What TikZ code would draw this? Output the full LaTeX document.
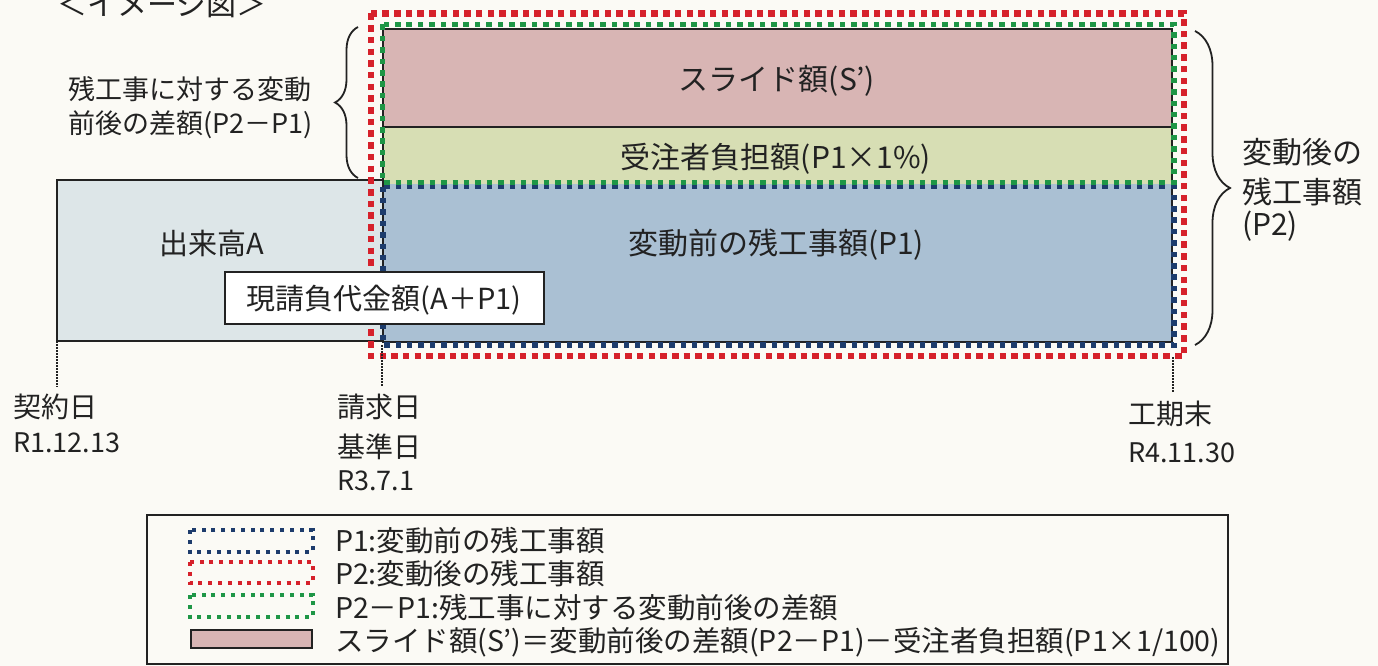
\documentclass[tikz,border=0pt]{standalone}
\usepackage{fontspec}
\setmainfont{Noto Sans CJK JP}
\usetikzlibrary{decorations.pathreplacing}
\definecolor{paper}{HTML}{FBFAF5}
\definecolor{ink}{HTML}{222222}
\definecolor{slidefill}{HTML}{D8B5B4}
\definecolor{burdenfill}{HTML}{D7DEB4}
\definecolor{remfill}{HTML}{AAC0D3}
\definecolor{donefill}{HTML}{DDE6E8}
\definecolor{dotred}{HTML}{D6212B}
\definecolor{dotgreen}{HTML}{1E9646}
\definecolor{dotblue}{HTML}{1D3C6C}
\newcommand{\myfs}[1]{\fontsize{#1}{#1}\selectfont}
\begin{document}
\begin{tikzpicture}[x=1pt,y=-1pt,
  lab/.style={inner sep=0pt, outer sep=0pt, text=ink},
  reddots/.style={draw=dotred, line width=6.5pt, dash pattern=on 6.5pt off 5.2pt},
  greendots/.style={draw=dotgreen, line width=5.5pt, dash pattern=on 5.5pt off 5.9pt},
  bluedots/.style={draw=dotblue, line width=5.5pt, dash pattern=on 5.5pt off 5.9pt},
  smallred/.style={draw=dotred, line width=4pt, dash pattern=on 4pt off 5.8pt},
  smallgreen/.style={draw=dotgreen, line width=4pt, dash pattern=on 4pt off 5.8pt},
  smallblue/.style={draw=dotblue, line width=4pt, dash pattern=on 4pt off 5.8pt},
  guide/.style={draw=ink, line width=1.2pt, dash pattern=on 1.5pt off 1.5pt},
  bracestyle/.style={draw=ink, line width=1.8pt, decorate, decoration={brace, amplitude=#1, aspect=0.5}},
  thinedge/.style={draw=ink, line width=1.5pt},
]
\useasboundingbox (0,0) rectangle (1378,666);
\fill[paper] (0,0) rectangle (1378,666);

% title
\node[lab, font=\myfs{30}, anchor=base west] (title) at (57,16) {＜イメージ図＞};

% work already done
\filldraw[fill=donefill, draw=ink, line width=2pt] (57,180) rectangle (383,341);
\node[lab, font=\myfs{29}, anchor=base] (done) at (212,254) {出来高A};

% stacked bands
\fill[slidefill] (383,29) rectangle (1172,127);
\fill[burdenfill] (383,127) rectangle (1172,184);
\fill[remfill] (383,184) rectangle (1172,342);
\draw[thinedge] (383,29) rectangle (1172,342);
\draw[thinedge] (383,127) -- (1172,127);

\node[lab, font=\myfs{30}, anchor=base] (slide) at (777,91) {スライド額(S’)};
\node[lab, font=\myfs{30}, anchor=base] (burden) at (776,168) {受注者負担額(P1×1\%)};
\node[lab, font=\myfs{30}, anchor=base] (rem) at (776,254) {変動前の残工事額(P1)};

% dotted outlines
\draw[bluedots] (383,186.5) rectangle (1174,345);
\draw[greendots] (382.5,24.5) rectangle (1174,182.5);
\draw[reddots] (371,13.5) rectangle (1184,356);

% contract amount box
\node[lab, draw=ink, line width=2pt, fill=white, minimum width=319pt, minimum height=52pt, anchor=north west] (contract) at (225,272) {};
\node[lab, font=\myfs{29}, anchor=base] (contracttxt) at (384,309) {現請負代金額(A＋P1)};

% guide lines
\coordinate (g1a) at (57,341);  \coordinate (g1b) at (57,387);
\coordinate (g2a) at (382,345); \coordinate (g2b) at (382,387);
\coordinate (g3a) at (1173,357); \coordinate (g3b) at (1173,393);
\draw[guide] (g1a) -- (g1b);
\draw[guide] (g2a) -- (g2b);
\draw[guide] (g3a) -- (g3b);

% braces
\coordinate (lbB) at (358,178); \coordinate (lbT) at (358,27);
\draw[bracestyle=23pt] (lbB) -- (lbT);
\coordinate (rbT) at (1195,31); \coordinate (rbB) at (1195,345);
\draw[bracestyle=35pt] (rbT) -- (rbB);

\node[lab, font=\myfs{27}, anchor=base west] (diffA) at (68,100) {残工事に対する変動};
\node[lab, font=\myfs{27}, anchor=base west] (diffB) at (68,133) {前後の差額(P2－P1)};

\node[lab, font=\myfs{30}, anchor=base west] (afterA) at (1242,164) {変動後の};
\node[lab, font=\myfs{30}, anchor=base west] (afterB) at (1242,203) {残工事額};
\node[lab, font=\myfs{30}, anchor=base west] (afterC) at (1242,235) {(P2)};

% dates
\node[lab, font=\myfs{28}, anchor=base west] (d1a) at (13,417) {契約日};
\node[lab, font=\myfs{27}, anchor=base west] (d1b) at (13,452) {R1.12.13};
\node[lab, font=\myfs{28}, anchor=base west] (d2a) at (337,417) {請求日};
\node[lab, font=\myfs{28}, anchor=base west] (d2b) at (337,457) {基準日};
\node[lab, font=\myfs{27}, anchor=base west] (d2c) at (337,490) {R3.7.1};
\node[lab, font=\myfs{28}, anchor=base west] (d3a) at (1128,424) {工期末};
\node[lab, font=\myfs{27}, anchor=base west] (d3b) at (1128,462) {R4.11.30};

% legend
\draw[draw=ink, line width=2pt] (147,515) rectangle (1228,664);
\draw[smallblue] (190,530) rectangle (313,552);
\draw[smallred] (190,562) rectangle (313,583);
\draw[smallgreen] (190,595) rectangle (313,617);
\filldraw[fill=slidefill, draw=ink, line width=2pt] (191,630) rectangle (312,648);
\node[lab, font=\myfs{28.5}, anchor=base west] (l1) at (335,551) {P1:変動前の残工事額};
\node[lab, font=\myfs{28.5}, anchor=base west] (l2) at (335,584) {P2:変動後の残工事額};
\node[lab, font=\myfs{28.5}, anchor=base west] (l3) at (335,618) {P2－P1:残工事に対する変動前後の差額};
\node[lab, font=\myfs{28.5}, anchor=base west] (l4) at (335,651) {スライド額(S’)＝変動前後の差額(P2－P1)－受注者負担額(P1×1/100)};
\end{tikzpicture}
\end{document}
